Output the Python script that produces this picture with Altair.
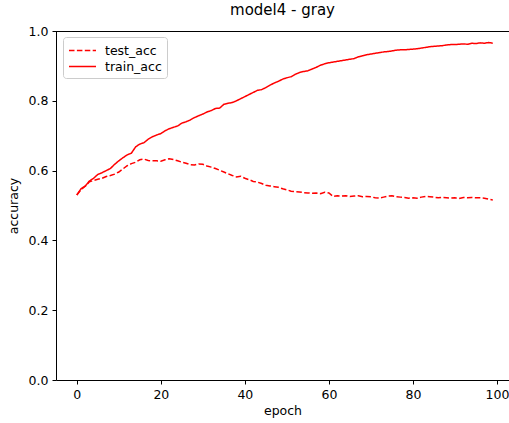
import altair as alt
import pandas as pd

epochs = list(range(100))

train_acc = [
    0.530, 0.548, 0.556, 0.570, 0.578, 0.589, 0.594, 0.600, 0.606, 0.618,
    0.628, 0.637, 0.645, 0.650, 0.668, 0.676, 0.680, 0.690, 0.697, 0.702,
    0.706, 0.714, 0.720, 0.724, 0.728, 0.736, 0.740, 0.745, 0.752, 0.757,
    0.762, 0.768, 0.772, 0.778, 0.779, 0.790, 0.793, 0.795, 0.800, 0.806,
    0.812, 0.818, 0.824, 0.830, 0.832, 0.838, 0.845, 0.851, 0.856, 0.862,
    0.866, 0.869, 0.876, 0.881, 0.884, 0.886, 0.891, 0.896, 0.902, 0.906,
    0.909, 0.911, 0.913, 0.915, 0.917, 0.919, 0.921, 0.926, 0.929, 0.932,
    0.934, 0.936, 0.938, 0.940, 0.941, 0.943, 0.945, 0.946, 0.946, 0.947,
    0.948, 0.949, 0.951, 0.953, 0.955, 0.956, 0.957, 0.958, 0.960, 0.961,
    0.961, 0.962, 0.963, 0.962, 0.965, 0.964, 0.966, 0.965, 0.967, 0.965,
]

test_acc = [
    0.530, 0.545, 0.555, 0.568, 0.572, 0.575, 0.578, 0.583, 0.586, 0.590,
    0.596, 0.605, 0.614, 0.620, 0.624, 0.631, 0.633, 0.629, 0.628, 0.628,
    0.627, 0.631, 0.634, 0.632, 0.628, 0.624, 0.621, 0.617, 0.616, 0.619,
    0.618, 0.613, 0.610, 0.606, 0.601, 0.596, 0.591, 0.586, 0.582, 0.584,
    0.578, 0.574, 0.569, 0.567, 0.563, 0.558, 0.556, 0.554, 0.552, 0.548,
    0.545, 0.541, 0.540, 0.539, 0.537, 0.536, 0.535, 0.536, 0.534, 0.538,
    0.536, 0.526, 0.528, 0.527, 0.528, 0.526, 0.527, 0.528, 0.525, 0.526,
    0.525, 0.522, 0.521, 0.524, 0.527, 0.528, 0.525, 0.524, 0.523, 0.521,
    0.522, 0.521, 0.524, 0.526, 0.525, 0.524, 0.522, 0.523, 0.522, 0.521,
    0.522, 0.520, 0.523, 0.522, 0.523, 0.522, 0.522, 0.521, 0.518, 0.516,
]

series_names = ["test_acc", "train_acc"]
x_ticks = [0, 20, 40, 60, 80, 100]
y_ticks = [0.0, 0.2, 0.4, 0.6, 0.8, 1.0]

df = pd.concat([
    pd.DataFrame({"epoch": epochs, "accuracy": test_acc, "series": "test_acc"}),
    pd.DataFrame({"epoch": epochs, "accuracy": train_acc, "series": "train_acc"}),
])

W = 453
H = 349
FONT = "DejaVu Sans"

legend = alt.Legend(
    title=None,
    orient="none",
    legendX=7,
    legendY=6,
    symbolType="M-1,0H2.6",
    symbolSize=225,
    symbolStrokeWidth=1.5,
    labelFontSize=12.5,
    labelFont=FONT,
    labelColor="#000000",
    labelOffset=20,
    rowPadding=1,
    padding=5,
    strokeColor="#cccccc",
    fillColor="#ffffff",
    cornerRadius=3,
)

lines = alt.Chart(df).mark_line(strokeWidth=1.5).encode(
    x=alt.X(
        "epoch:Q",
        scale=alt.Scale(domain=[-4.95, 102.86], nice=False, zero=False),
        axis=alt.Axis(values=x_ticks, title="epoch", grid=False, format="d"),
    ),
    y=alt.Y(
        "accuracy:Q",
        scale=alt.Scale(domain=[0, 1], nice=False),
        axis=alt.Axis(values=y_ticks, title="accuracy", grid=False, format=".1f"),
    ),
    color=alt.Color(
        "series:N",
        scale=alt.Scale(domain=series_names, range=["#ff0000", "#ff0000"]),
        legend=legend,
    ),
    strokeDash=alt.StrokeDash(
        "series:N",
        scale=alt.Scale(domain=series_names, range=[[5.5, 2.4], [1, 0]]),
        legend=legend,
    ),
)

top_spine = alt.Chart(df).mark_rule(color="#000000", strokeWidth=1).encode(
    x=alt.value(0), x2=alt.value(W), y=alt.value(0.5)
)

chart = (
    alt.layer(lines, top_spine)
    .properties(
        width=W,
        height=H,
        title=alt.TitleParams(
            "model4 - gray", fontSize=15, font=FONT, fontWeight="normal",
            color="#000000", anchor="middle", offset=7,
        ),
        padding={"left": 56, "top": 31, "right": 0, "bottom": 43},
        autosize=alt.AutoSizeParams(type="none"),
    )
    .configure_view(stroke=None)
    .configure_axis(
        domainColor="#000000",
        domainWidth=1,
        tickColor="#000000",
        tickSize=4,
        tickWidth=1,
        labelFont=FONT,
        labelFontSize=12.5,
        labelColor="#000000",
        labelPadding=4,
        titleFont=FONT,
        titleFontSize=12.5,
        titleFontWeight="normal",
        titleColor="#000000",
    )
    .configure_axisX(titlePadding=4)
    .configure_axisY(titlePadding=8)
)

chart.save("out.html", embed_options={"renderer": "svg", "actions": False})
